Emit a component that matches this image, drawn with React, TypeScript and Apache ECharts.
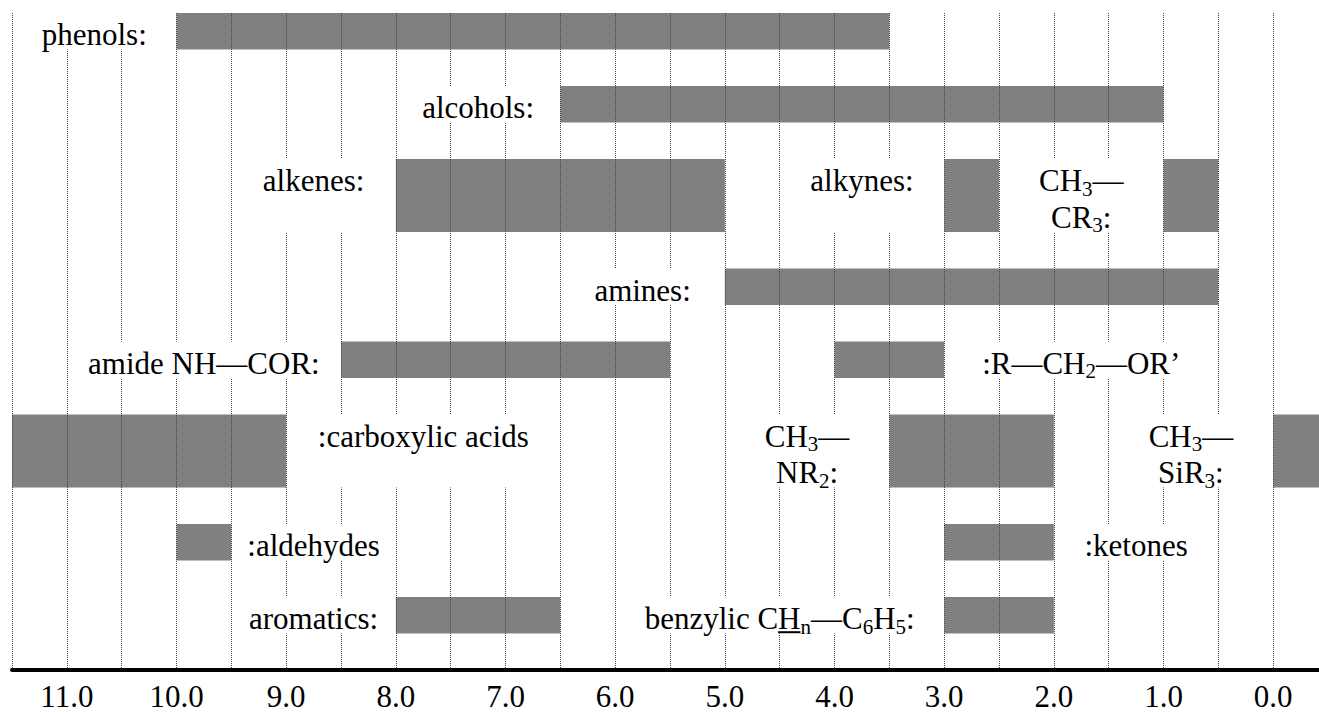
import React, { useEffect, useRef } from "react";
import * as echarts from "echarts";

const FONT = '"Liberation Serif", "Times New Roman", serif';
const MAIN_SIZE = 31;
const SUB_SIZE = 21;

// Axis (ppm, reversed)
const axisMin = -0.5;
const axisMax = 11.5;
const axisStep = 0.5;

// Row bands on a 0..18 vertical scale (top of band, band height)
const rowTops = [0, 2, 4, 7, 9, 11, 14, 16];
const rowSpans = [1, 1, 2, 1, 1, 2, 1, 1];

// Shift ranges (ppm): from, to, row
const barFrom = [10.0, 6.5, 8.0, 3.0, 1.0, 5.0, 8.5, 4.0, 11.5, 3.5, 0.0, 10.0, 3.0, 8.0, 3.0];
const barTo = [3.5, 1.0, 5.0, 2.5, 0.5, 0.5, 5.5, 3.0, 9.0, 2.0, -0.5, 9.5, 2.0, 6.5, 2.0];
const barRow = [0, 1, 2, 2, 2, 3, 4, 4, 5, 5, 5, 6, 6, 7, 7];

// Labels: text (rich markup: {s|..} subscript, {u|..} underlined), centre ppm, row
const labelTexts = [
  "phenols:",
  "alcohols:",
  "alkenes:",
  "alkynes:",
  "CH{s|3}—\nCR{s|3}:",
  "amines:",
  "amide NH—COR:",
  ":R—CH{s|2}—OR’",
  ":carboxylic acids",
  "CH{s|3}—\nNR{s|2}:",
  "CH{s|3}—\nSiR{s|3}:",
  ":aldehydes",
  ":ketones",
  "aromatics:",
  "benzylic C{u|H}{s|n}—C{s|6}H{s|5}:",
];
const labelAt = [10.75, 7.25, 8.75, 3.75, 1.75, 5.75, 9.75, 1.75, 7.75, 4.25, 0.75, 8.75, 1.25, 8.75, 4.5];
const labelRow = [0, 1, 2, 2, 2, 3, 4, 4, 5, 5, 5, 6, 6, 7, 7];

let measureCtx: CanvasRenderingContext2D | null = null;
function textWidth(text: string, size: number): number {
  if (!measureCtx) measureCtx = document.createElement("canvas").getContext("2d");
  measureCtx!.font = `${size}px ${FONT}`;
  return measureCtx!.measureText(text).width;
}

type Tok = { style: string; text: string; w: number };
function parseLine(line: string): Tok[] {
  const re = /\{(\w+)\|([^}]*)\}|([^{]+)/g;
  const out: Tok[] = [];
  let m: RegExpExecArray | null;
  while ((m = re.exec(line))) {
    if (m[3] !== undefined) {
      out.push({ style: "", text: m[3], w: textWidth(m[3], MAIN_SIZE) });
    } else {
      const size = m[1] === "s" ? SUB_SIZE : MAIN_SIZE;
      out.push({ style: m[1], text: m[2], w: textWidth(m[2], size) });
    }
  }
  return out;
}

const TEXT_DROP = 3.5;

export default function App() {
  const ref = useRef<HTMLDivElement>(null);

  useEffect(() => {
    document.body.style.margin = "0";
    document.body.style.overflow = "hidden";
    const chart = echarts.init(ref.current!, null, { renderer: "svg" });

    const barData = barFrom.map((f, i) => [f, barTo[i], rowTops[barRow[i]], rowSpans[barRow[i]]]);
    const labelData = labelAt.map((a, i) => [a, rowTops[labelRow[i]], rowSpans[labelRow[i]]]);

    chart.setOption({
      animation: false,
      grid: { left: 12, right: 12, top: 13, bottom: 35 },
      xAxis: {
        type: "value",
        min: axisMin,
        max: axisMax,
        interval: axisStep,
        inverse: true,
        z: 3,
        axisLine: { show: true, onZero: false, lineStyle: { color: "#000", width: 4 } },
        axisTick: { show: false },
        splitLine: { show: true, lineStyle: { color: "#444", width: 1, type: [1, 1] } },
        axisLabel: {
          color: "#000",
          fontSize: MAIN_SIZE,
          fontFamily: FONT,
          margin: 11,
          formatter: (v: number) => (Math.abs(v - Math.round(v)) < 1e-6 ? v.toFixed(1) : ""),
        },
      },
      yAxis: { type: "value", min: 0, max: 18, inverse: true, show: false },
      series: [
        {
          type: "custom",
          z: 2,
          silent: true,
          data: barData,
          encode: { x: [0, 1], y: [2] },
          renderItem: (params: any, api: any) => {
            const p0 = api.coord([api.value(0), api.value(2)]);
            const p1 = api.coord([api.value(1), api.value(2) + api.value(3)]);
            return {
              type: "rect",
              shape: {
                x: Math.min(p0[0], p1[0]),
                y: Math.min(p0[1], p1[1]),
                width: Math.abs(p1[0] - p0[0]),
                height: Math.abs(p1[1] - p0[1]),
              },
              style: { fill: "#808080" },
            };
          },
        },
        {
          type: "custom",
          z: 5,
          silent: true,
          data: labelData,
          encode: { x: [0], y: [1] },
          renderItem: (params: any, api: any) => {
            const i = params.dataIndex;
            const cx = api.coord([api.value(0), api.value(1)])[0];
            const top = api.coord([api.value(0), api.value(1)])[1];
            const bottom = api.coord([api.value(0), api.value(1) + api.value(2)])[1];
            const lh = (bottom - top) / api.value(2);
            const lines = labelTexts[i].split("\n").map(parseLine);
            const widths = lines.map((t) => t.reduce((s, k) => s + k.w, 0));
            const W = Math.max(...widths);
            const pad = 3;
            const ty = top + TEXT_DROP;
            const children: any[] = [
              {
                type: "rect",
                shape: { x: cx - W / 2 - pad, y: top, width: W + 2 * pad, height: bottom - top },
                style: { fill: "#fff" },
              },
              {
                type: "text",
                x: cx,
                y: ty,
                style: {
                  text: labelTexts[i],
                  fontSize: MAIN_SIZE,
                  fontFamily: FONT,
                  fill: "#000",
                  align: "center",
                  verticalAlign: "top",
                  lineHeight: lh,
                  rich: {
                    s: { fontSize: SUB_SIZE, fontFamily: FONT, lineHeight: lh - 11, verticalAlign: "bottom" },
                    u: { fontSize: MAIN_SIZE, fontFamily: FONT },
                  },
                },
              },
            ];
            lines.forEach((toks, li) => {
              let x = cx - widths[li] / 2;
              const uy = ty + li * lh + lh / 2 + 0.3375 * MAIN_SIZE + 3;
              toks.forEach((t) => {
                if (t.style === "u") {
                  children.push({
                    type: "line",
                    shape: { x1: x, y1: uy, x2: x + t.w, y2: uy },
                    style: { stroke: "#000", lineWidth: 2 },
                  });
                }
                x += t.w;
              });
            });
            return { type: "group", children };
          },
        },
      ],
    });

    return () => chart.dispose();
  }, []);

  return (
    <div style={{ width: 1319, height: 712, overflow: "hidden", position: "relative", background: "#fff" }}>
      <div ref={ref} style={{ width: 1340, height: 712 }} />
    </div>
  );
}
